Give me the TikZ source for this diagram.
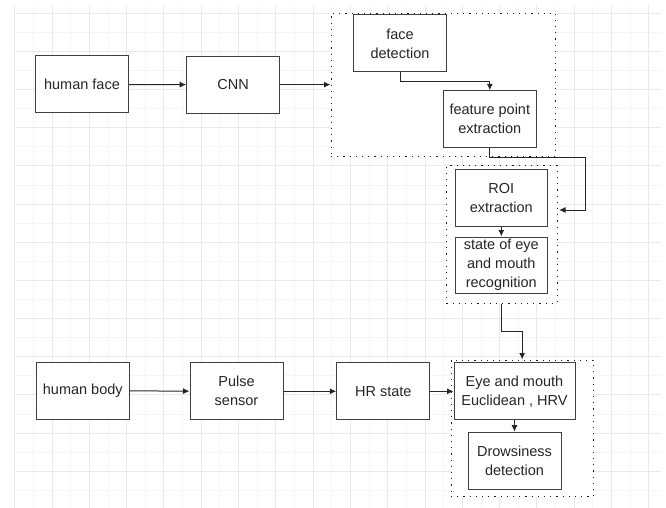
\documentclass[tikz,border=0pt]{standalone}
\usepackage{fontspec}
\setmainfont{Liberation Sans}
\usetikzlibrary{arrows.meta}

\begin{document}
\begin{tikzpicture}[x=1pt,y=-1pt,
		blk/.style={draw=black!75,line width=1pt,fill=white,align=center,minimum width=93pt,minimum height=57pt,inner sep=1pt,font=\fontsize{14.5}{19}\selectfont,text=black!85},
		grp/.style={draw=black!90,line width=1pt,dash pattern=on 1.2pt off 5pt,fill=white,inner sep=0pt},
		arr/.style={draw=black!85,line width=1pt,-{Latex[length=6.5pt,width=6pt]}}]
		\useasboundingbox (0,0) rectangle (666,508);
		% grid
		\foreach \k in {1,3,...,33}
			\draw[gray!8,line width=0.9pt] (14.7+18.65*\k,5) -- (14.7+18.65*\k,508);
		\foreach \k in {1,3,...,25}
			\draw[gray!8,line width=0.9pt] (14.7,13.3+19.08*\k) -- (660.7,13.3+19.08*\k);
		\foreach \k in {0,2,...,34}
			\draw[gray!17,line width=0.9pt] (14.7+18.65*\k,5) -- (14.7+18.65*\k,508);
		\foreach \k in {0,2,...,24}
			\draw[gray!17,line width=0.9pt] (14.7,13.3+19.08*\k) -- (660.7,13.3+19.08*\k);
		% dotted groups
		\node[grp,minimum width=224.7pt,minimum height=142.7pt] (grp1) at (443.35,84.65) {};
		\node[grp,minimum width=110.7pt,minimum height=137.3pt] (grp2) at (501.65,234.35) {};
		\node[grp,minimum width=142.3pt,minimum height=136.7pt] (grp3) at (522.15,428.35) {};
		% blocks
		\node[blk] (face) at (82,84.5) {human face};
		\node[blk] (cnn) at (233.2,84.65) {CNN};
		\node[blk] (facedet) at (400,43.5) {face\\detection};
		\node[blk] (featpt) at (489.8,119.3) {feature point\\extraction};
		\node[blk,minimum width=92pt] (roi) at (501.3,198.3) {ROI\\extraction};
		\node[blk,minimum width=92pt,minimum height=56pt] (state) at (501.3,265) {state of eye\\and mouth\\recognition};
		\node[blk] (body) at (82.8,390.7) {human body};
		\node[blk] (pulse) at (236.5,391.3) {Pulse\\sensor};
		\node[blk] (hr) at (383.3,391.3) {HR state};
		\node[blk,minimum width=121pt] (eye) at (514.5,391.3) {Eye and mouth\\Euclidean , HRV};
		\node[blk] (drowsy) at (514.5,460.7) {Drowsiness\\detection};
		\coordinate (roiin) at (559,210);
		% connectors
		\draw[arr] (face) -- (cnn);
		\draw[arr] (cnn) -- (grp1);
		\draw[arr] (facedet.south) -- ++(0,9) -| (featpt.north);
		\draw[arr] (featpt.south) -- ++(0,8.7) -- ++(95.5,0) |- (roiin);
		\draw[arr] (roi) -- (state);
		\draw[arr] (grp2.south) -- ++(0,28.3) -| (grp3.north);
		\draw[arr] (body) -- (pulse);
		\draw[arr] (pulse) -- (hr);
		\draw[arr] (hr) -- (eye);
		\draw[arr] (eye) -- (drowsy);
\end{tikzpicture}
\end{document}
